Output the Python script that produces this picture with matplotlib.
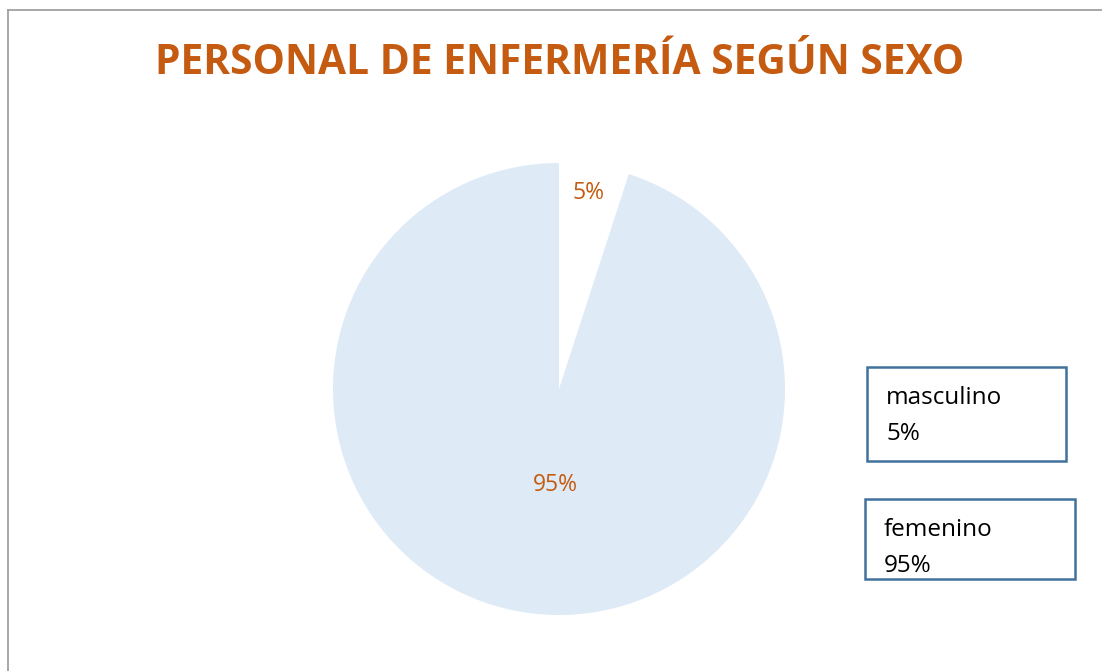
import matplotlib
matplotlib.use("Agg")
import matplotlib.pyplot as plt
from matplotlib.patches import Rectangle
from matplotlib.lines import Line2D

categories = ["masculino", "femenino"]
values = [5, 95]
title = "PERSONAL DE ENFERMERÍA SEGÚN SEXO"

W, H = 1102, 671
fig = plt.figure(figsize=(W / 100, H / 100), dpi=100)
fig.patch.set_facecolor("white")

# outer frame lines (top and left)
fig.add_artist(Line2D([8 / W, 1], [1 - 10 / H, 1 - 10 / H], color="#A0A0A0", lw=1.3))
fig.add_artist(Line2D([8 / W, 8 / W], [0, 1 - 10 / H], color="#A0A0A0", lw=1.3))

orange = "#C55A11"
fig.text(560 / W, 1 - 64 / H, title, ha="center", va="center",
         fontsize=29.3, fontweight="bold", color=orange, family="Open Sans")

# pie axes
cx, cy, r = 559, 389, 226
ax = fig.add_axes([(cx - r) / W, 1 - (cy + r) / H, 2 * r / W, 2 * r / H])
colors = ["white", "#DEEAF6"]
wedges, texts = ax.pie(values, colors=colors, startangle=90, counterclock=False,
                       radius=1.0)
ax.set_xlim(-1, 1)
ax.set_ylim(-1, 1)
ax.set_aspect("equal")
ax.axis("off")

total = sum(values)
label_pos = [(588, 193), (555, 485)]
for v, (px, py) in zip(values, label_pos):
    fig.text(px / W, 1 - py / H, f"{round(100 * v / total)}%", ha="center", va="center",
             fontsize=16.5, color=orange, family="Open Sans")

# legend-like boxes
boxes = [(867, 367, 1066, 461), (865, 499, 1075, 579)]
for (x0, y0, x1, y1), cat, v in zip(boxes, categories, values):
    fig.add_artist(Rectangle((x0 / W, 1 - y1 / H), (x1 - x0) / W, (y1 - y0) / H,
                             transform=fig.transFigure, fill=False,
                             edgecolor="#41719C", lw=1.8))
    fig.text((x0 + 19) / W, 1 - (y0 + 30.5) / H, cat, ha="left", va="center",
             fontsize=17.5, color="black", family="Open Sans")
    fig.text((x0 + 19) / W, 1 - (y0 + 66.5) / H, f"{round(100 * v / total)}%", ha="left",
             va="center", fontsize=17.5, color="black", family="Open Sans")

fig.savefig("out.png", dpi=100)
